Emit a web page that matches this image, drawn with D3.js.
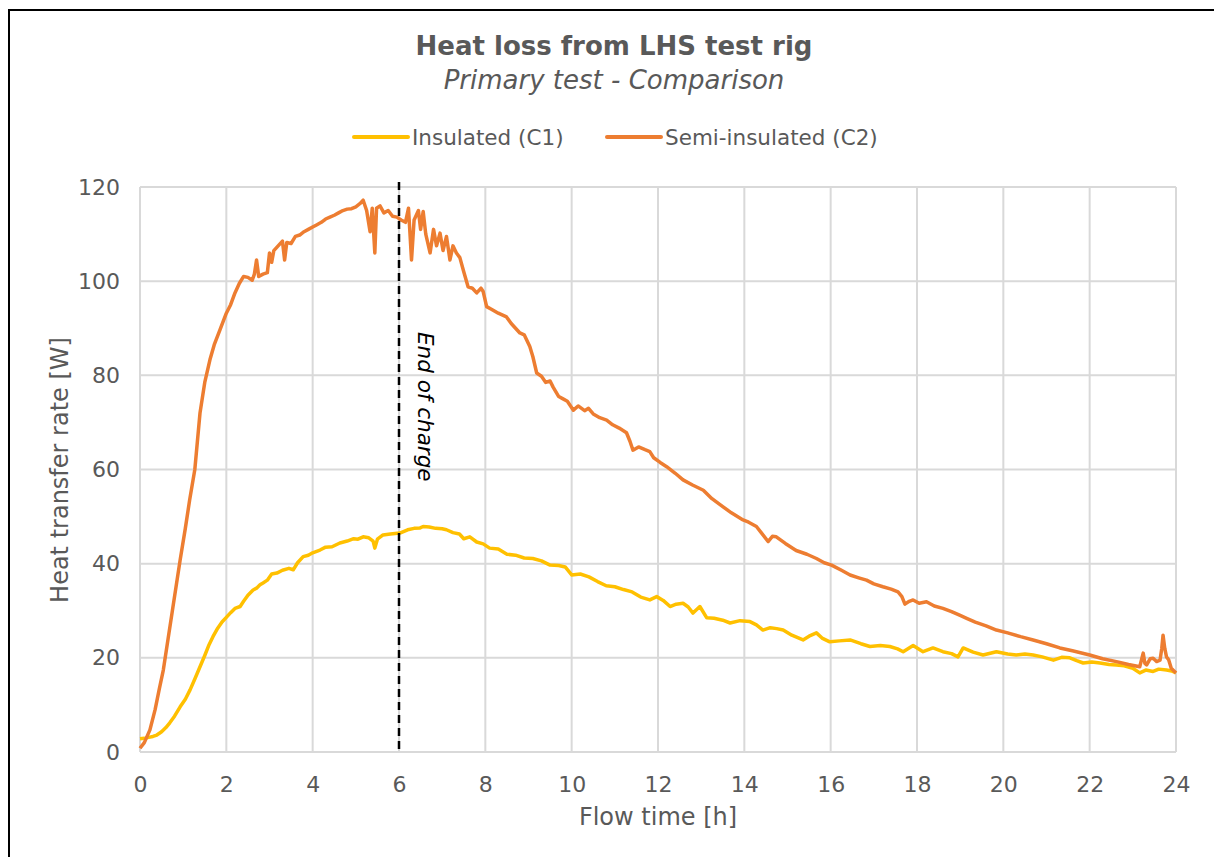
<!DOCTYPE html>
<meta charset="utf-8" />
<script src="https://d3js.org/d3.v7.min.js"></script>
<style>
	body { margin: 0; background: #fff; }
	text { font-family: 'DejaVu Sans', Verdana, sans-serif; }
</style>
<div id="my_dataviz"></div>
<script>
	// chart text
	var chartTitle = 'Heat loss from LHS test rig';
	var chartSubtitle = 'Primary test - Comparison';
	var seriesNames = ['Insulated (C1)', 'Semi-insulated (C2)'];
	var xTicks = [0, 2, 4, 6, 8, 10, 12, 14, 16, 18, 20, 22, 24];
	var yTicks = [0, 20, 40, 60, 80, 100, 120];
	var endOfCharge = 6;

	// Insulated (C1)
	var hoursC1 = [0, 0.1, 0.2, 0.3, 0.39, 0.5, 0.6, 0.69, 0.8, 0.93, 1.05, 1.16, 1.27, 1.39, 1.5, 1.6, 1.69, 1.8, 1.9, 2.01,
		2.1, 2.2, 2.32, 2.4, 2.5, 2.62, 2.7, 2.78, 2.85, 2.95, 3.05, 3.17, 3.3, 3.45, 3.55, 3.65, 3.78, 3.9, 4.0, 4.17,
		4.3, 4.45, 4.63, 4.8, 4.95, 5.05, 5.17, 5.3, 5.4, 5.44, 5.5, 5.63, 5.8, 6.02, 6.2, 6.35, 6.49, 6.56, 6.7, 6.85,
		7.0, 7.1, 7.25, 7.4, 7.5, 7.64, 7.8, 7.95, 8.1, 8.3, 8.5, 8.7, 8.9, 9.1, 9.3, 9.5, 9.7, 9.85, 10.0, 10.2,
		10.4, 10.6, 10.8, 11.0, 11.2, 11.4, 11.6, 11.81, 11.97, 12.12, 12.28, 12.42, 12.58, 12.7, 12.81, 12.97, 13.13, 13.3, 13.5, 13.67,
		13.9, 14.13, 14.28, 14.43, 14.6, 14.75, 14.9, 15.1, 15.36, 15.5, 15.67, 15.8, 15.98, 16.2, 16.45, 16.7, 16.91, 17.15, 17.37, 17.55,
		17.68, 17.91, 18.14, 18.37, 18.6, 18.8, 18.95, 19.07, 19.3, 19.53, 19.84, 20.1, 20.3, 20.5, 20.69, 20.9, 21.16, 21.35, 21.54, 21.7,
		21.85, 22.05, 22.24, 22.45, 22.62, 22.8, 23.0, 23.16, 23.3, 23.47, 23.6, 23.78, 23.9, 24.0];
	var heatC1 = [2.8, 2.9, 3.1, 3.3, 3.6, 4.3, 5.2, 6.2, 7.6, 9.6, 11.2, 13.2, 15.5, 18.1, 20.5, 22.8, 24.5, 26.3, 27.6, 28.7,
		29.6, 30.5, 30.9, 32.0, 33.3, 34.4, 34.8, 35.5, 35.9, 36.5, 37.8, 38.0, 38.6, 39.0, 38.7, 40.2, 41.5, 41.8, 42.3, 42.9,
		43.5, 43.6, 44.4, 44.8, 45.3, 45.2, 45.7, 45.5, 44.8, 43.3, 45.2, 46.1, 46.3, 46.5, 47.2, 47.5, 47.6, 47.9, 47.8, 47.5,
		47.4, 47.2, 46.6, 46.3, 45.3, 45.7, 44.6, 44.2, 43.3, 43.1, 42.0, 41.8, 41.2, 41.1, 40.6, 39.7, 39.6, 39.3, 37.6, 37.8,
		37.2, 36.2, 35.3, 35.1, 34.5, 34.0, 32.9, 32.3, 33.0, 32.2, 30.9, 31.4, 31.6, 30.8, 29.5, 30.9, 28.5, 28.4, 28.0, 27.4,
		27.9, 27.7, 27.0, 25.9, 26.4, 26.2, 25.9, 24.8, 23.8, 24.6, 25.3, 24.2, 23.4, 23.6, 23.8, 23.0, 22.4, 22.6, 22.4, 21.9,
		21.3, 22.6, 21.3, 22.1, 21.3, 20.9, 20.2, 22.1, 21.2, 20.6, 21.3, 20.8, 20.6, 20.8, 20.6, 20.2, 19.5, 20.1, 20.0, 19.4,
		18.9, 19.1, 18.9, 18.6, 18.5, 18.3, 17.8, 16.8, 17.4, 17.1, 17.6, 17.4, 17.2, 16.8];

	// Semi-insulated (C2)
	var hoursC2 = [0, 0.1, 0.23, 0.35, 0.45, 0.54, 0.65, 0.75, 0.85, 0.93, 1.05, 1.15, 1.27, 1.33, 1.39, 1.5, 1.62, 1.72, 1.85, 2.0,
		2.1, 2.2, 2.3, 2.4, 2.5, 2.6, 2.65, 2.7, 2.75, 2.85, 2.95, 3.0, 3.05, 3.1, 3.2, 3.3, 3.35, 3.4, 3.5, 3.6,
		3.7, 3.8, 3.9, 4.0, 4.1, 4.2, 4.3, 4.4, 4.5, 4.6, 4.7, 4.8, 4.9, 5.0, 5.1, 5.17, 5.25, 5.33, 5.38, 5.44,
		5.48, 5.56, 5.65, 5.75, 5.85, 5.95, 6.05, 6.15, 6.22, 6.29, 6.35, 6.45, 6.5, 6.56, 6.62, 6.72, 6.8, 6.87, 6.95, 7.02,
		7.1, 7.18, 7.25, 7.33, 7.41, 7.5, 7.6, 7.7, 7.8, 7.9, 7.95, 8.03, 8.15, 8.3, 8.49, 8.6, 8.7, 8.8, 8.9, 9.03,
		9.1, 9.19, 9.3, 9.4, 9.5, 9.57, 9.7, 9.8, 9.9, 10.04, 10.15, 10.3, 10.39, 10.5, 10.65, 10.81, 10.95, 11.1, 11.27, 11.35,
		11.42, 11.55, 11.7, 11.81, 11.9, 12.05, 12.2, 12.4, 12.58, 12.8, 13.05, 13.25, 13.5, 13.7, 13.97, 14.1, 14.28, 14.4, 14.55, 14.65,
		14.74, 14.95, 15.2, 15.45, 15.67, 15.85, 16.02, 16.25, 16.45, 16.65, 16.83, 17.0, 17.21, 17.4, 17.56, 17.65, 17.72, 17.82, 17.91, 18.05,
		18.22, 18.4, 18.6, 18.8, 19.0, 19.15, 19.35, 19.6, 19.84, 20.1, 20.4, 20.69, 21.0, 21.31, 21.6, 22.0, 22.3, 22.62, 22.9, 23.16,
		23.24, 23.28, 23.32, 23.4, 23.47, 23.55, 23.63, 23.67, 23.7, 23.74, 23.78, 23.83, 23.89, 24.0];
	var heatC2 = [0.8, 2.0, 4.7, 9.0, 13.5, 17.4, 24.0, 30.0, 36.0, 40.8, 47.5, 53.5, 60.0, 66.0, 72.0, 78.5, 83.3, 86.5, 89.6, 93.2,
		95.0, 97.5, 99.5, 101.0, 100.8, 100.2, 101.5, 104.5, 101.0, 101.5, 101.8, 106.0, 104.0, 106.5, 107.5, 108.5, 104.5, 108.2, 108.0, 109.5,
		109.8, 110.5, 111.0, 111.5, 112.0, 112.5, 113.2, 113.6, 114.0, 114.5, 115.0, 115.3, 115.4, 115.8, 116.5, 117.2, 115.0, 110.5, 115.5, 106.0,
		115.5, 116.0, 114.5, 115.0, 113.8, 113.6, 113.0, 112.5, 115.5, 104.5, 113.0, 115.0, 111.0, 114.8, 110.0, 106.0, 111.0, 107.5, 110.2, 106.5,
		109.5, 104.5, 107.5, 106.0, 105.0, 102.0, 98.8, 98.5, 97.5, 98.5, 97.8, 94.6, 94.0, 93.2, 92.4, 91.0, 90.0, 89.0, 88.6, 86.1,
		84.0, 80.5, 79.8, 78.5, 78.8, 77.5, 75.5, 75.0, 74.5, 72.6, 73.5, 72.5, 73.0, 71.8, 71.0, 70.5, 69.5, 68.8, 67.8, 66.0,
		64.1, 64.8, 64.2, 63.8, 62.5, 61.5, 60.6, 59.2, 57.8, 56.7, 55.6, 53.8, 52.1, 50.8, 49.3, 48.8, 47.9, 46.5, 44.7, 45.8,
		45.7, 44.3, 42.8, 42.0, 41.1, 40.2, 39.7, 38.6, 37.6, 37.0, 36.5, 35.7, 35.1, 34.6, 34.0, 33.0, 31.4, 32.0, 32.3, 31.6,
		31.9, 31.0, 30.5, 29.8, 29.0, 28.4, 27.6, 26.8, 25.9, 25.3, 24.5, 23.8, 23.0, 22.1, 21.5, 20.6, 19.8, 19.2, 18.6, 18.1,
		21.0, 18.8, 18.5, 19.8, 19.9, 19.2, 19.5, 22.0, 24.8, 22.0, 20.2, 19.6, 17.8, 16.8];

	var colors = ['#FFC000', '#ED7D31'];
	var textColor = '#595959';

	var width = 1214, height = 857;

	var svg = d3
		.select('#my_dataviz')
		.append('svg')
		.attr('width', width)
		.attr('height', height);

	// outer chart frame (runs off the right and bottom edge)
	svg
		.append('rect')
		.attr('x', 9)
		.attr('y', 10)
		.attr('width', 1230)
		.attr('height', 880)
		.attr('fill', 'white')
		.attr('stroke', 'black')
		.attr('stroke-width', 2);

	var x = d3.scaleLinear().domain([0, 24]).range([140, 1176]);
	var y = d3.scaleLinear().domain([0, 120]).range([752, 187]);

	// grid lines
	var grid = svg.append('g').attr('stroke', '#d9d9d9').attr('stroke-width', 2);
	grid
		.selectAll('line.v')
		.data(xTicks)
		.enter()
		.append('line')
		.attr('x1', function (d) { return x(d); })
		.attr('x2', function (d) { return x(d); })
		.attr('y1', y(0))
		.attr('y2', y(120));
	grid
		.selectAll('line.h')
		.data(yTicks)
		.enter()
		.append('line')
		.attr('x1', x(0))
		.attr('x2', x(24))
		.attr('y1', function (d) { return y(d); })
		.attr('y2', function (d) { return y(d); });

	// axes (labels only, Excel style)
	var xAxis = svg
		.append('g')
		.attr('transform', 'translate(0,' + y(0) + ')')
		.call(d3.axisBottom(x).tickValues(xTicks).tickSize(0).tickPadding(32));
	var yAxis = svg
		.append('g')
		.attr('transform', 'translate(' + x(0) + ',0)')
		.call(d3.axisLeft(y).tickValues(yTicks).tickSize(0).tickPadding(20));
	[xAxis, yAxis].forEach(function (a) {
		a.select('.domain').remove();
		a.selectAll('text')
			.style('font-family', 'DejaVu Sans')
			.style('font-size', '22px')
			.attr('fill', textColor);
	});
	xAxis.selectAll('text').attr('dy', '0.35em');

	// series
	var line = d3
		.line()
		.x(function (d) { return x(d[0]); })
		.y(function (d) { return y(d[1]); });
	var series = [d3.zip(hoursC1, heatC1), d3.zip(hoursC2, heatC2)];
	svg
		.selectAll('path.series')
		.data(series)
		.enter()
		.append('path')
		.attr('fill', 'none')
		.attr('stroke', function (d, i) { return colors[i]; })
		.attr('stroke-width', 3.5)
		.attr('stroke-linejoin', 'round')
		.attr('d', line);

	// end of charge marker
	svg
		.append('line')
		.attr('x1', x(endOfCharge))
		.attr('x2', x(endOfCharge))
		.attr('y1', 182)
		.attr('y2', y(0))
		.attr('stroke', 'black')
		.attr('stroke-width', 2.5)
		.attr('stroke-dasharray', '8,5');
	svg
		.append('text')
		.attr('transform', 'translate(' + (x(endOfCharge) + 19) + ',332)rotate(90)')
		.style('font-size', '21.5px')
		.style('font-style', 'italic')
		.attr('fill', 'black')
		.text('End of charge');

	// titles
	svg
		.append('text')
		.attr('x', 614)
		.attr('y', 55)
		.attr('text-anchor', 'middle')
		.style('font-size', '26px')
		.style('font-weight', 'bold')
		.attr('fill', textColor)
		.text(chartTitle);
	svg
		.append('text')
		.attr('x', 614)
		.attr('y', 89)
		.attr('text-anchor', 'middle')
		.style('font-size', '26px')
		.style('font-style', 'italic')
		.attr('fill', textColor)
		.text(chartSubtitle);

	// legend
	var legendX = [354, 607];
	var legend = svg
		.selectAll('g.legend')
		.data(seriesNames)
		.enter()
		.append('g')
		.attr('transform', function (d, i) { return 'translate(' + legendX[i] + ',137)'; });
	legend
		.append('line')
		.attr('x1', 0)
		.attr('x2', 54)
		.attr('stroke', function (d, i) { return colors[i]; })
		.attr('stroke-width', 4)
		.attr('stroke-linecap', 'round');
	legend
		.append('text')
		.attr('x', 58)
		.attr('dy', '0.35em')
		.style('font-size', '21.5px')
		.attr('fill', textColor)
		.text(function (d) { return d; });

	// axis titles
	svg
		.append('text')
		.attr('x', 658)
		.attr('y', 825)
		.attr('text-anchor', 'middle')
		.style('font-size', '24px')
		.attr('fill', textColor)
		.text('Flow time [h]');
	svg
		.append('text')
		.attr('text-anchor', 'middle')
		.attr('transform', 'translate(68,470)rotate(-90)')
		.style('font-size', '24px')
		.attr('fill', textColor)
		.text('Heat transfer rate [W]');
</script>
